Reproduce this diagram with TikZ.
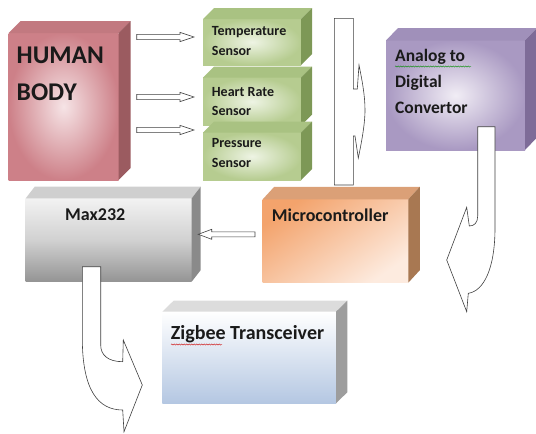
\documentclass[tikz,border=0pt]{standalone}
\usepackage{fontspec}
\setmainfont{Carlito}
\usetikzlibrary{calc,decorations.pathmorphing}
\definecolor{hbside}{HTML}{9B5B60}\definecolor{hbtop}{HTML}{C27980}
\definecolor{hbin}{HTML}{F6E4E6}\definecolor{hbout}{HTML}{CD8088}
\definecolor{snside}{HTML}{7D9856}\definecolor{sntop}{HTML}{A9C282}
\definecolor{snin}{HTML}{EEF4E4}\definecolor{snout}{HTML}{B6CC90}
\definecolor{adside}{HTML}{7E6C98}\definecolor{adtop}{HTML}{A090BA}
\definecolor{adin}{HTML}{F1EDF5}\definecolor{adout}{HTML}{A999C2}
\definecolor{mcside}{HTML}{A87852}\definecolor{mctop}{HTML}{DBA077}
\definecolor{mca}{HTML}{F3A36C}\definecolor{mcb}{HTML}{FDEBDF}
\definecolor{mxside}{HTML}{8A8A8A}\definecolor{mxtop}{HTML}{CFCFCF}
\definecolor{zbside}{HTML}{9D9D9D}\definecolor{zbtop}{HTML}{DCDCDC}
\definecolor{zbb}{HTML}{B4C7E2}
\definecolor{txt}{HTML}{1A1A1A}
\newcommand\cubeface[5]{% name, dx, dy, side, top
  \fill[#5] (#1.north west) -- ++(#2,-#3) -- ($(#1.north east)+(#2,-#3)$) -- (#1.north east) -- cycle;
  \fill[#4] (#1.north east) -- ++(#2,-#3) -- ($(#1.south east)+(#2,-#3)$) -- (#1.south east) -- cycle;}
\tikzset{
  front/.style={rectangle, inner sep=0pt, outer sep=0pt, anchor=north west},
  lbl/.style={anchor=base west, inner sep=0pt, text=txt, font=\bfseries},
  snlbl/.style={lbl, font=\bfseries\fontsize{14}{14}\selectfont},
  adlbl/.style={lbl, font=\bfseries\fontsize{17.5}{17.5}\selectfont},
  blockarrow/.style={draw=black!75, fill=white, line width=0.6pt, line join=miter},
}
\begin{document}
\begin{tikzpicture}[x=1pt,y=-1pt]
\useasboundingbox (0,0) rectangle (536,434);
% Human body
\node[front, minimum width=110, minimum height=147, inner color=hbin, outer color=hbout] (hb) at (8.5,33) {};
\cubeface{hb}{12}{12}{hbside}{hbtop}
\node[lbl, font=\bfseries\fontsize{25.5}{25.5}\selectfont] (hbt1) at (16.5,63) {HUMAN};
\node[lbl, font=\bfseries\fontsize{25.5}{25.5}\selectfont] (hbt2) at (16.5,100) {BODY};
% Sensors
\node[front, minimum width=98, minimum height=46, inner color=snin, outer color=snout] (ts) at (203,19) {};
\cubeface{ts}{11}{11}{snside}{sntop}
\node[snlbl] at (211.7,35.7) {Temperature};
\node[snlbl] at (211.7,55) {Sensor};
\node[front, minimum width=98, minimum height=48, inner color=snin, outer color=snout] (hr) at (203,77.5) {};
\cubeface{hr}{11}{11}{snside}{sntop}
\node[snlbl] at (211.7,96.7) {Heart Rate};
\node[snlbl] at (211.7,115) {Sensor};
\node[front, minimum width=98, minimum height=47.5, inner color=snin, outer color=snout] (ps) at (203,132.5) {};
\cubeface{ps}{11}{11}{snside}{sntop}
\node[snlbl] at (211.7,147.5) {Pressure};
\node[snlbl] at (211.7,167) {Sensor};
% small arrows
\foreach \yy in {37,97,130}{
  \draw[blockarrow] (136.7,\yy-2.6) -- (180,\yy-2.6) -- (180,\yy-4.6) -- (194,\yy) -- (180,\yy+4.6) -- (180,\yy+2.6) -- (136.7,\yy+2.6) -- cycle;}
% ADC
\node[front, minimum width=139, minimum height=109.5, inner color=adin, outer color=adout] (adc) at (386,40.5) {};
\cubeface{adc}{12}{12.5}{adside}{adtop}
\node[adlbl] (adt1) at (395,61.5) {Analog to};
\node[adlbl] at (395,87.5) {Digital};
\node[adlbl] at (395,113) {Convertor};
\draw[green!55!black, line width=0.4pt, decorate, decoration={snake, amplitude=0.6pt, segment length=2.5pt}] (395,66.5) -- (471,66.5);
% vertical arrow to ADC
\draw[blockarrow] (334.3,18.3) -- (353.3,18.3) -- (353.3,89) -- (357.3,89) -- (359,65)
  .. controls (362,80) and (365,95) .. (365,110)
  .. controls (365,125) and (361,145) .. (358.3,158) -- (355,136) -- (353.3,136) -- (353.3,185) -- (334.3,185) -- cycle;
% ADC -> micro arrow
\draw[blockarrow] (477.7,126.7) -- (477.7,216) .. controls (477.7,223) and (474,226) .. (469.3,226)
  -- (466.7,207.3) -- (446.7,260) -- (466.7,311.7) -- (468.3,293.3)
  .. controls (484,291) and (495,268) .. (495,228) -- (495,126.7) -- cycle;
% Microcontroller
\node[front, minimum width=145.6, minimum height=83.4, top color=mca, bottom color=mcb, shading angle=35] (mc) at (262.7,199.3) {};
\cubeface{mc}{11.5}{12.5}{mcside}{mctop}
\node[lbl, font=\bfseries\fontsize{18}{18}\selectfont] at (271.7,221.7) {Microcontroller};
% Max232
\node[front, minimum width=166, minimum height=83.4, top color=white!95!black, bottom color=black!42, middle color=black!18] (mx) at (25.7,198.3) {};
\cubeface{mx}{9}{11.6}{mxside}{mxtop}
\node[lbl, font=\bfseries\fontsize{18}{18}\selectfont] at (65,220) {Max232};
% micro -> max232 arrow
\draw[blockarrow] (255,231.8) -- (211.7,231.8) -- (211.7,229.3) -- (198.3,234.3) -- (211.7,239.3) -- (211.7,236.8) -- (255,236.8) -- cycle;
% Zigbee
\node[front, minimum width=173.7, minimum height=91.6, top color=white, bottom color=zbb] (zb) at (162.3,311.7) {};
\cubeface{zb}{11.3}{11}{zbside}{zbtop}
\node[lbl, font=\bfseries\fontsize{20}{20}\selectfont] at (170.7,339.3) {Zigbee Transceiver};
\draw[red!80!black, line width=0.4pt, decorate, decoration={snake, amplitude=0.6pt, segment length=2.5pt}] (171,344.5) -- (222,344.5);
% Max232 -> Zigbee arrow
\draw[blockarrow] (82.3,266.7) -- (100.7,266.7) -- (100.7,345) .. controls (100.7,355) and (108,361.7) .. (122.7,361.7)
  -- (123.3,340) -- (142.3,385) -- (124,431.7) -- (122.7,410)
  .. controls (98,410) and (82.3,390) .. (82.3,338) -- cycle;
\end{tikzpicture}
\end{document}
